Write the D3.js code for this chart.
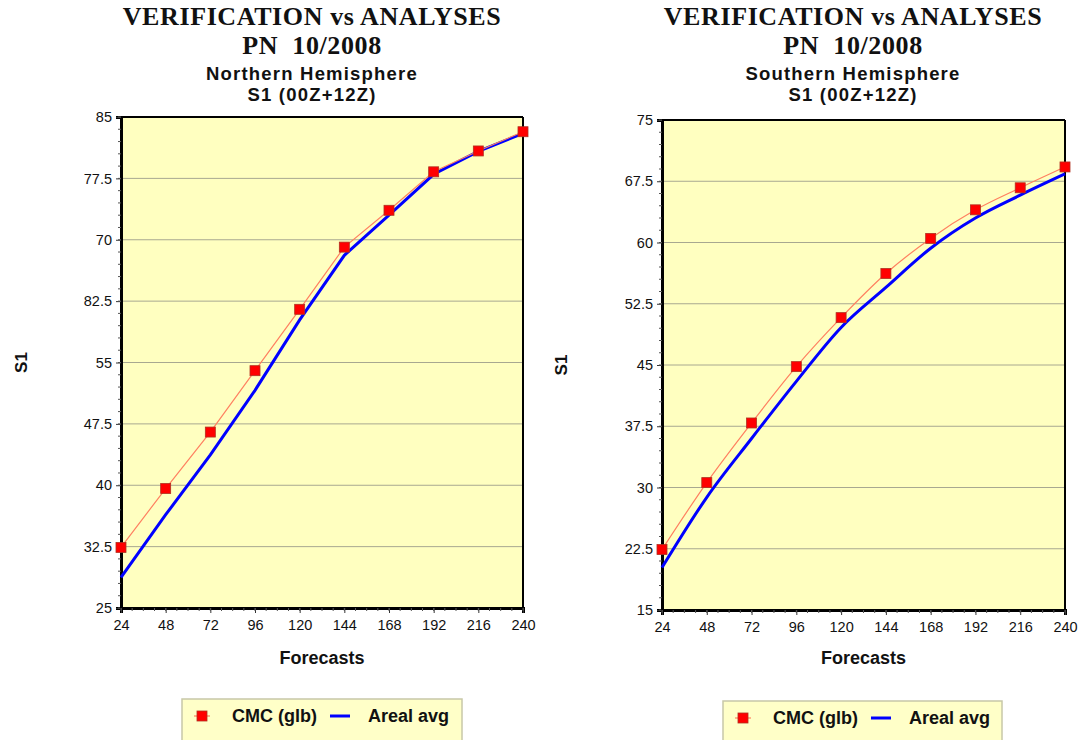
<!DOCTYPE html>
<html><head><meta charset="utf-8">
<script src="https://cdn.jsdelivr.net/npm/d3@7"></script>
<style>body{margin:0;background:#fff}svg{display:block}</style>
</head><body>
<svg id="c" width="1081" height="740"></svg>
<script>
const forecasts = [24, 48, 72, 96, 120, 144, 168, 192, 216, 240];
const nhCMC   = [32.4, 39.6, 46.5, 54.0, 61.5, 69.1, 73.6, 78.3, 80.85, 83.2];
const nhAreal = [28.75, 36.4, 43.7, 51.6, 60.2, 68.1, 73.0, 78.0, 80.8, 83.0];
const shCMC   = [22.4, 30.6, 37.9, 44.8, 50.8, 56.2, 60.5, 64.0, 66.7, 69.25];
const shAreal = [20.2, 28.8, 36.0, 43.0, 49.6, 54.5, 59.3, 63.0, 65.8, 68.4];
const nhTicks = [25, 32.5, 40, 47.5, 55, 62.5, 70, 77.5, 85];
const nhTickLabels = ["25", "32.5", "40", "47.5", "55", "82.5", "70", "77.5", "85"];
const shTicks = [15, 22.5, 30, 37.5, 45, 52.5, 60, 67.5, 75];
const shTickLabels = ["15", "22.5", "30", "37.5", "45", "52.5", "60", "67.5", "75"];
const titleLine1 = "VERIFICATION vs ANALYSES";
const titleLine2 = "PN  10/2008";
const seriesNames = ["CMC (glb)", "Areal avg"];

const svg = d3.select("#c");
const SANS = "Liberation Sans, Arial, sans-serif";

function panel(opt) {
  const {x0, x1, y0, y1, dom, ticks, labels, cmc, areal, region, tcx, curve, yLabX, leg} = opt;
  const g = svg.append("g");
  const x = d3.scaleLinear().domain([24, 240]).range([x0, x1]);
  const y = d3.scaleLinear().domain(dom).range([y1, y0]);

  // titles
  const serif = t => t.attr("text-anchor", "middle")
    .style("font-family", "Liberation Serif, Times New Roman, serif").style("font-weight", "bold")
    .style("font-size", "26px").style("letter-spacing", "0.6px").attr("fill", "#111").style("white-space", "pre");
  serif(g.append("text").attr("x", tcx).attr("y", 25)).text(titleLine1);
  serif(g.append("text").attr("x", tcx).attr("y", 54)).text(titleLine2);
  const sub = t => t.attr("text-anchor", "middle")
    .style("font-family", SANS).style("font-weight", "bold")
    .style("font-size", "18.5px").style("letter-spacing", "1.2px").attr("fill", "#111");
  sub(g.append("text").attr("x", tcx).attr("y", 80)).text(region);
  sub(g.append("text").attr("x", tcx).attr("y", 101)).text("S1 (00Z+12Z)");

  // plot background
  g.append("rect").attr("x", x0).attr("y", y0).attr("width", x1 - x0).attr("height", y1 - y0)
    .attr("fill", "#ffffc0");

  // gridlines
  g.selectAll(".grid").data(ticks.slice(1, -1)).enter().append("line")
    .attr("x1", x0).attr("x2", x1).attr("y1", d => y(d)).attr("y2", d => y(d))
    .attr("stroke", "#a8a890").attr("stroke-width", 1);

  // border top/right
  g.append("line").attr("x1", x0).attr("x2", x1).attr("y1", y0).attr("y2", y0).attr("stroke", "#000").attr("stroke-width", 2);
  g.append("line").attr("x1", x1).attr("x2", x1).attr("y1", y0).attr("y2", y1).attr("stroke", "#000").attr("stroke-width", 2);

  // y axis
  const minorY = d3.range(dom[0], dom[1] + 0.001, 1.5);
  const yAxis = d3.axisLeft(y).tickValues(ticks).tickFormat((d, i) => labels[i]).tickSize(5).tickPadding(4);
  const ya = g.append("g").attr("transform", `translate(${x0},0)`).call(yAxis);
  ya.select(".domain").attr("stroke", "#000").attr("stroke-width", 3);
  ya.selectAll(".tick line").attr("stroke", "#333");
  ya.selectAll("text").style("font-family", SANS).style("font-size", "14.5px").attr("fill", "#111");
  g.selectAll(".myt").data(minorY).enter().append("line")
    .attr("x1", x0 - 3).attr("x2", x0).attr("y1", d => y(d)).attr("y2", d => y(d))
    .attr("stroke", "#555").attr("stroke-width", 1);

  // x axis
  const xAxis = d3.axisBottom(x).tickValues(forecasts).tickFormat(d3.format("d")).tickSize(5).tickPadding(7);
  const xa = g.append("g").attr("transform", `translate(0,${y1})`).call(xAxis);
  xa.select(".domain").attr("stroke", "#000").attr("stroke-width", 3);
  xa.selectAll(".tick line").attr("stroke", "#333");
  xa.selectAll("text").style("font-family", SANS).style("font-size", "14.5px").attr("fill", "#111");
  g.selectAll(".mxt").data(d3.range(24, 240.01, 6)).enter().append("line")
    .attr("x1", d => x(d)).attr("x2", d => x(d)).attr("y1", y1).attr("y2", y1 + 3)
    .attr("stroke", "#555").attr("stroke-width", 1);

  // axis titles
  g.append("text").attr("transform", `translate(${yLabX},${(y0 + y1) / 2}) rotate(-90)`)
    .attr("text-anchor", "middle").style("font-family", SANS)
    .style("font-weight", "bold").style("font-size", "17px").attr("fill", "#111").text("S1");
  g.append("text").attr("x", (x0 + x1) / 2).attr("y", 664).attr("text-anchor", "middle")
    .style("font-family", SANS)
    .style("font-weight", "bold").style("font-size", "18px").attr("fill", "#111").text("Forecasts");

  // series
  const line = d3.line().x((d, i) => x(forecasts[i])).y(d => y(d)).curve(curve);
  g.append("path").attr("d", line(areal)).attr("fill", "none").attr("stroke", "#0000ff").attr("stroke-width", 3);
  g.append("path").attr("d", line(cmc)).attr("fill", "none").attr("stroke", "#ff8060").attr("stroke-width", 1.2);
  g.selectAll(".mk").data(cmc).enter().append("rect")
    .attr("x", (d, i) => x(forecasts[i]) - 5).attr("y", d => y(d) - 5)
    .attr("width", 10).attr("height", 10).attr("fill", "#ff0000").attr("stroke", "#b03020").attr("stroke-width", 0.8);

  // legend
  const lg = g.append("g");
  lg.append("rect").attr("x", leg.x).attr("y", leg.y).attr("width", leg.w).attr("height", 50)
    .attr("fill", "#ffffc8").attr("stroke", "#c8c8a8").attr("stroke-width", 1.5);
  const my = leg.y + 17;
  lg.append("line").attr("x1", leg.x + 12).attr("x2", leg.x + 28).attr("y1", my).attr("y2", my).attr("stroke", "#ff8060").attr("stroke-width", 1.2);
  lg.append("rect").attr("x", leg.x + 15).attr("y", my - 5).attr("width", 10).attr("height", 10)
    .attr("fill", "#ff0000").attr("stroke", "#b03020").attr("stroke-width", 0.8);
  lg.append("text").attr("x", leg.x + 50).attr("y", my + 6).style("font-family", SANS)
    .style("font-weight", "bold").style("font-size", "18px").attr("fill", "#111").text(seriesNames[0]);
  lg.append("line").attr("x1", leg.x + 148).attr("x2", leg.x + 168).attr("y1", my).attr("y2", my).attr("stroke", "#0000ff").attr("stroke-width", 3);
  lg.append("text").attr("x", leg.x + 186).attr("y", my + 6).style("font-family", SANS)
    .style("font-weight", "bold").style("font-size", "18px").attr("fill", "#111").text(seriesNames[1]);
}

panel({x0: 121, x1: 523, y0: 117, y1: 608, dom: [25, 85], ticks: nhTicks, labels: nhTickLabels,
  cmc: nhCMC, areal: nhAreal, region: "Northern Hemisphere", tcx: 312, curve: d3.curveLinear, yLabX: 27,
  leg: {x: 182, y: 699, w: 280}});
panel({x0: 662, x1: 1065, y0: 120, y1: 610, dom: [15, 75], ticks: shTicks, labels: shTickLabels,
  cmc: shCMC, areal: shAreal, region: "Southern Hemisphere", tcx: 853, curve: d3.curveMonotoneX, yLabX: 567,
  leg: {x: 723, y: 701, w: 279}});
</script>
</body></html>
